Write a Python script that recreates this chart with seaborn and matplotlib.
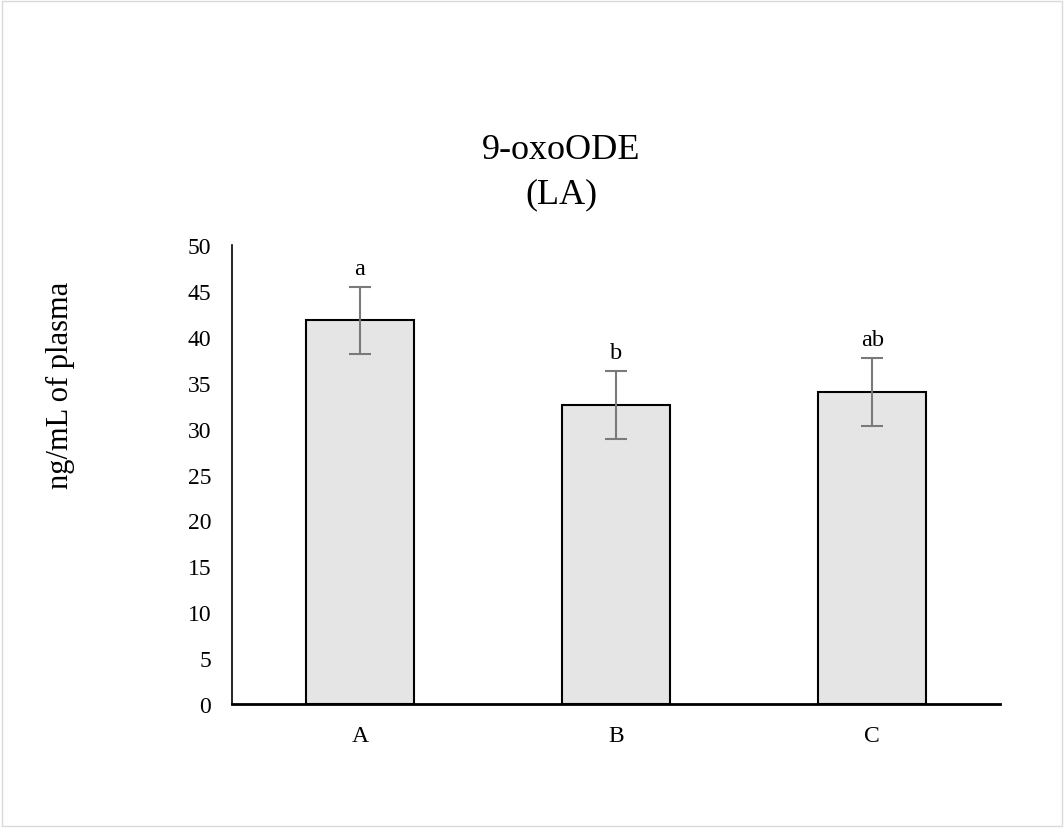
import matplotlib
matplotlib.use("Agg")
import matplotlib.pyplot as plt
import seaborn as sns
import pandas as pd
from matplotlib.patches import Rectangle

groups = ["A", "B", "C"]
means = [41.8, 32.6, 34.0]
errors = [3.7, 3.7, 3.7]
letters = ["a", "b", "ab"]
title_lines = ["9-oxoODE", "(LA)"]
ylabel = "ng/mL of plasma"

sns.set_theme(style="white")
plt.rcParams['font.family'] = ['Liberation Serif', 'DejaVu Serif']
plt.rcParams['text.color'] = 'black'
plt.rcParams['axes.labelcolor'] = 'black'

fig = plt.figure(figsize=(10.64, 8.29), dpi=100)
ax = fig.add_axes([0.218, 0.1496, 0.722, 0.5534])

df = pd.DataFrame({"group": groups, "value": means})
sns.barplot(data=df, x="group", y="value", color="#e5e5e5", edgecolor="black",
            linewidth=1.5, width=0.42, errorbar=None, ax=ax, saturation=1)
ax.errorbar(range(len(groups)), means, yerr=errors, fmt="none", ecolor="#7a7a7a",
            elinewidth=1.5, capsize=8, capthick=1.5, zorder=5)
for i, (m, e, t) in enumerate(zip(means, errors, letters)):
    ax.text(i, m + e + 1.4, t, ha="center", va="baseline", fontsize=17.5)

ax.set_xlim(-0.5, 2.5)
ax.set_ylim(0, 50)
ax.set_yticks(range(0, 51, 5))
ax.tick_params(axis="y", length=0, labelsize=17, colors="black", pad=15)
ax.tick_params(axis="x", length=0, labelsize=17, colors="black", pad=15)
ax.set_xlabel("")
ax.set_ylabel("")
for s in ["top", "right"]:
    ax.spines[s].set_visible(False)
ax.spines["left"].set_color("black")
ax.spines["left"].set_linewidth(1.2)
ax.spines["bottom"].set_color("black")
ax.spines["bottom"].set_linewidth(2)

fig.text(0.0573, 0.5356, ylabel, rotation=90, ha="center", va="center", fontsize=22)

fig.text(561 / 1064, 1 - 159 / 829, title_lines[0], ha="center", va="baseline", fontsize=26)
fig.text(561 / 1064, 1 - 203 / 829, title_lines[1], ha="center", va="baseline", fontsize=26)

fig.patches.append(Rectangle((0.002, 0.002), 0.996, 0.996, transform=fig.transFigure,
                             fill=False, edgecolor="#d9d9d9", linewidth=1))

fig.savefig("out.png", dpi=100)
